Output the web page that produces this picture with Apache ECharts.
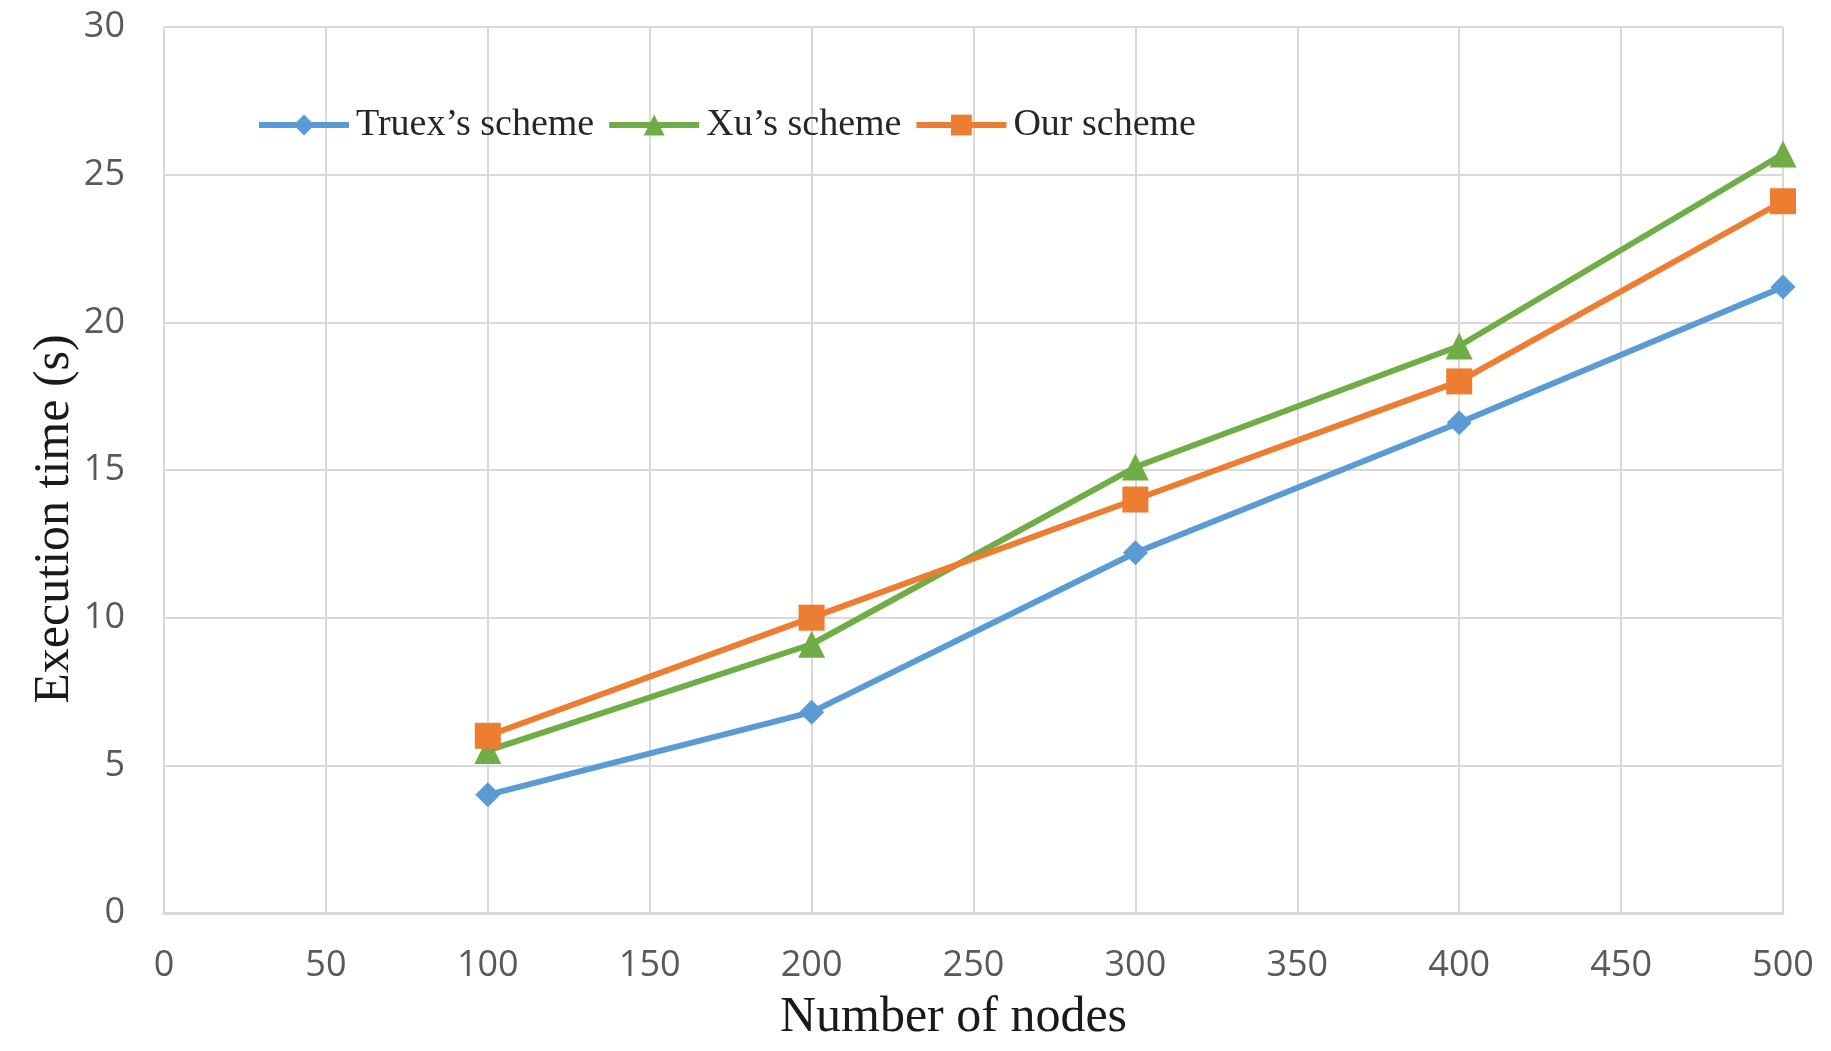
<!DOCTYPE html>
<html><head><meta charset="utf-8">
<script src="https://cdn.jsdelivr.net/npm/echarts@6/dist/echarts.min.js"></script>
<style>html,body{margin:0;padding:0;background:#fff}#c{width:1831px;height:1051px}</style>
</head><body><div id="c"></div>
<script>
const nodes = [100, 200, 300, 400, 500];
const truex = [4.0, 6.8, 12.2, 16.6, 21.2];
const xu = [5.5, 9.1, 15.1, 19.2, 25.7];
const ours = [6.0, 10.0, 14.0, 18.0, 24.1];
const seriesNames = ["Truex\u2019s scheme", "Xu\u2019s scheme", "Our scheme"];
const xTitle = 'Number of nodes';
const yTitle = 'Execution time (s)';

const pair = (xs, ys) => xs.map((x, i) => [x, ys[i]]);
const numFont = '"Open Sans", "Noto Sans", sans-serif';
const serif = '"Liberation Serif", "DejaVu Serif", serif';

const chart = echarts.init(document.getElementById('c'));
chart.setOption({
  animation: false,
  backgroundColor: '#fff',
  grid: { left: 164, right: 48, top: 27, bottom: 138, containLabel: false },
  legend: {
    left: 251, top: 101,
    itemWidth: 90, itemHeight: 26, itemGap: 12,
    lineStyle: { width: 6 },
    textStyle: { fontFamily: serif, fontSize: 38, color: '#262626', padding: [0, 0, 0, 2] },
    data: seriesNames
  },
  graphic: [{
    type: 'text', x: 55, y: 519, rotation: Math.PI / 2,
    style: { text: yTitle, x: 0, y: 0, align: 'center', verticalAlign: 'middle',
      font: '50px "Liberation Serif", serif', fill: '#1a1a1a' }
  }],
  xAxis: {
    type: 'value', min: 0, max: 500, interval: 50,
    name: xTitle, nameLocation: 'middle', nameGap: 80,
    nameTextStyle: { fontFamily: serif, fontSize: 50, color: '#1a1a1a', padding: [0, 40, 0, 0] },
    axisLine: { show: true, lineStyle: { color: '#d9d9d9', width: 3 } },
    axisTick: { show: false },
    axisLabel: { fontFamily: numFont, fontSize: 36, color: '#595959', margin: 35 },
    splitLine: { show: true, lineStyle: { color: '#d9d9d9', width: 2 } }
  },
  yAxis: {
    type: 'value', min: 0, max: 30, interval: 5,
    axisLine: { show: false },
    axisTick: { show: false },
    axisLabel: { fontFamily: numFont, fontSize: 36, color: '#595959', margin: 39 },
    splitLine: { show: true, lineStyle: { color: '#d9d9d9', width: 2 } }
  },
  series: [
    { name: seriesNames[0], type: 'line', data: pair(nodes, truex),
      symbol: 'diamond', symbolSize: 25,
      itemStyle: { color: '#5B9BD5' }, lineStyle: { color: '#5B9BD5', width: 6 } },
    { name: seriesNames[1], type: 'line', data: pair(nodes, xu),
      symbol: 'triangle', symbolSize: 27,
      itemStyle: { color: '#70AD47' }, lineStyle: { color: '#70AD47', width: 6 } },
    { name: seriesNames[2], type: 'line', data: pair(nodes, ours),
      symbol: 'rect', symbolSize: 26,
      itemStyle: { color: '#ED7D31' }, lineStyle: { color: '#ED7D31', width: 6 } }
  ]
});
</script></body></html>
